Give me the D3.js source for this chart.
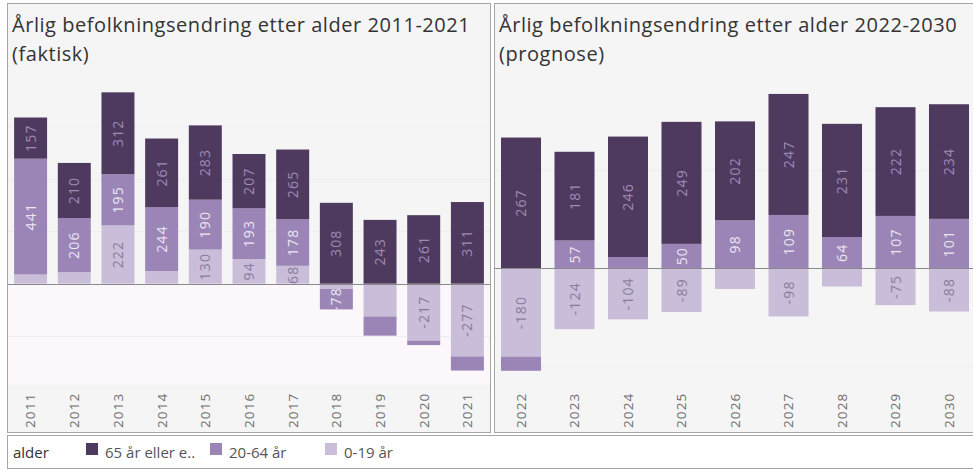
<!DOCTYPE html>
<html>
<head>
<meta charset="utf-8">
<script src="https://cdn.jsdelivr.net/npm/d3@7"></script>
<style>
  html, body { margin: 0; padding: 0; background: #ffffff; }
  svg { display: block; font-family: "Open Sans", "Noto Sans", sans-serif; }
</style>
</head>
<body>
<svg id="chart" width="973" height="474"></svg>
<script>
// ---- data ----
const seriesKeys = ["0-19 år", "20-64 år", "65 år eller eldre"];
const legendLabels = ["65 år eller e..", "20-64 år", "0-19 år"];

const years1 = ["2011","2012","2013","2014","2015","2016","2017","2018","2019","2020","2021"];
const old1   = [157, 210, 312, 261, 283, 207, 265, 308, 243, 261, 311];
const mid1   = [441, 206, 195, 244, 190, 193, 178, -78, -73, -17, -54];
const young1 = [35, 44, 222, 48, 130, 94, 68, -20, -125, -217, -277];

const years2 = ["2022","2023","2024","2025","2026","2027","2028","2029","2030"];
const old2   = [267, 181, 246, 249, 202, 247, 231, 222, 234];
const mid2   = [-29, 57, 23, 50, 98, 109, 64, 107, 101];
const young2 = [-180, -124, -104, -89, -42, -98, -37, -75, -88];

// labels Tableau hid (did not fit / overlapped)
const hiddenLabels = [
  "2011|0-19 år", "2012|0-19 år", "2014|0-19 år",
  "2018|0-19 år", "2019|0-19 år", "2019|20-64 år", "2020|20-64 år", "2021|20-64 år",
  "2022|20-64 år", "2024|20-64 år", "2026|0-19 år", "2028|0-19 år"
];

const titles1 = ["Årlig befolkningsendring etter alder 2011-2021", "(faktisk)"];
const titles2 = ["Årlig befolkningsendring etter alder 2022-2030", "(prognose)"];

// ---- styles ----
const colors = {"65 år eller eldre": "#4f3a5f", "20-64 år": "#9a85b6", "0-19 år": "#c9bdd9"};
const labelColors = {"65 år eller eldre": "#9e8bb6", "20-64 år": "#ece6f3", "0-19 år": "#8a7c9d"};

const svg = d3.select("#chart");
const hidden = new Set(hiddenLabels);

function buildRows(years, young, mid, old) {
  return years.map((y, i) => ({year: y, "0-19 år": young[i], "20-64 år": mid[i], "65 år eller eldre": old[i]}));
}

function drawPanel(cfg) {
  const g = svg.append("g");
  const rows = buildRows(cfg.years, cfg.young, cfg.mid, cfg.old);

  const x = d3.scaleBand().domain(cfg.years)
    .range([cfg.x0, cfg.x1]).paddingInner(cfg.pi).paddingOuter(cfg.po);
  const y = d3.scaleLinear().domain(cfg.yDomain).range([cfg.plotBottom, cfg.plotTop]);

  // panel background
  g.append("rect").attr("x", cfg.px0).attr("y", 3.5).attr("width", cfg.px1 - cfg.px0).attr("height", 429)
    .attr("fill", "#f5f5f5");
  if (cfg.negBg) {
    g.append("rect").attr("x", cfg.px0).attr("y", y(0)).attr("width", cfg.px1 - cfg.px0)
      .attr("height", cfg.plotBottom - y(0)).attr("fill", cfg.negBg);
  }
  // gridlines
  g.selectAll(".grid").data(cfg.grid).join("line")
    .attr("x1", cfg.px0).attr("x2", cfg.px1)
    .attr("y1", d => Math.round(y(d)) + 0.5).attr("y2", d => Math.round(y(d)) + 0.5)
    .attr("stroke", "#eeeeee").attr("stroke-width", 1);

  const stack = d3.stack().keys(seriesKeys).offset(d3.stackOffsetDiverging);
  const series = stack(rows);

  const sg = g.selectAll(".series").data(series).join("g").attr("fill", d => colors[d.key]);
  sg.selectAll("rect").data(d => d.map(p => ({key: d.key, p}))).join("rect")
    .attr("x", d => x(d.p.data.year))
    .attr("width", x.bandwidth())
    .attr("y", d => y(Math.max(d.p[0], d.p[1])))
    .attr("height", d => Math.abs(y(d.p[0]) - y(d.p[1])));

  // value labels
  series.forEach(s => {
    s.forEach(p => {
      const v = p.data[s.key];
      if (hidden.has(p.data.year + "|" + s.key)) return;
      const cx = x(p.data.year) + x.bandwidth() / 2;
      const cy = (y(p[0]) + y(p[1])) / 2;
      g.append("text")
        .attr("transform", `translate(${cx},${cy}) rotate(-90)`)
        .attr("text-anchor", "middle").attr("dy", "0.36em")
        .attr("font-size", 14).attr("letter-spacing", 1.2)
        .attr("fill", labelColors[s.key])
        .text(v);
    });
  });

  // zero line
  g.append("line").attr("x1", cfg.px0).attr("x2", cfg.px1)
    .attr("y1", Math.round(y(0)) + 0.5).attr("y2", Math.round(y(0)) + 0.5)
    .attr("stroke", "#8a8a8a").attr("stroke-width", 1);

  // x axis labels (rotated years)
  const xa = g.append("g");
  cfg.years.forEach(yr => {
    const cx = x(yr) + x.bandwidth() / 2;
    xa.append("text")
      .attr("transform", `translate(${cx},428) rotate(-90)`)
      .attr("text-anchor", "start").attr("dy", "0.36em")
      .attr("font-size", 13.5).attr("letter-spacing", 1.1)
      .attr("fill", "#6e6e6e")
      .text(yr);
  });

  // title
  cfg.titles.forEach((t, i) => {
    g.append("text").attr("x", cfg.px0 + 4.5).attr("y", 32 + i * 29)
      .attr("font-size", 20).attr("letter-spacing", 0.55).attr("fill", "#333333").text(t);
  });

  // border
  g.append("rect").attr("x", cfg.px0).attr("y", 3.5).attr("width", cfg.px1 - cfg.px0).attr("height", 429)
    .attr("fill", "none").attr("stroke", "#a5a5a5").attr("stroke-width", 1);
}

drawPanel({
  years: years1, young: young1, mid: mid1, old: old1,
  px0: 7.5, px1: 490.5,
  x0: 8, x1: 490, pi: 0.245, po: 0.14,
  yDomain: [-386, 820], plotBottom: 385, plotTop: 385 - 1206 * 0.2625,
  grid: [-200, 200, 400, 600],
  negBg: "#fbf7fb",
  titles: titles1
});

drawPanel({
  years: years2, young: young2, mid: mid2, old: old2,
  px0: 494.5, px1: 980,
  x0: 495, x1: 975, pi: 0.252, po: 0.112,
  yDomain: [-238, 400], plotBottom: 385, plotTop: 385 - 638 * 0.49,
  grid: [-200, 200],
  negBg: null,
  titles: titles2
});

// ---- legend ----
const lg = svg.append("g");
lg.append("rect").attr("x", 7.5).attr("y", 435.5).attr("width", 980).attr("height", 33)
  .attr("fill", "#ffffff").attr("stroke", "#a5a5a5");
lg.append("text").attr("x", 13).attr("y", 458).attr("font-size", 15).attr("fill", "#333333").text("alder");
const legendKeys = ["65 år eller eldre", "20-64 år", "0-19 år"];
const legendX = [86, 210, 325];
legendKeys.forEach((k, i) => {
  lg.append("rect").attr("x", legendX[i]).attr("y", 443).attr("width", 12).attr("height", 12).attr("fill", colors[k]);
  lg.append("text").attr("x", legendX[i] + 19).attr("y", 458).attr("font-size", 15).attr("fill", "#555555")
    .text(legendLabels[i]);
});
</script>
</body>
</html>
